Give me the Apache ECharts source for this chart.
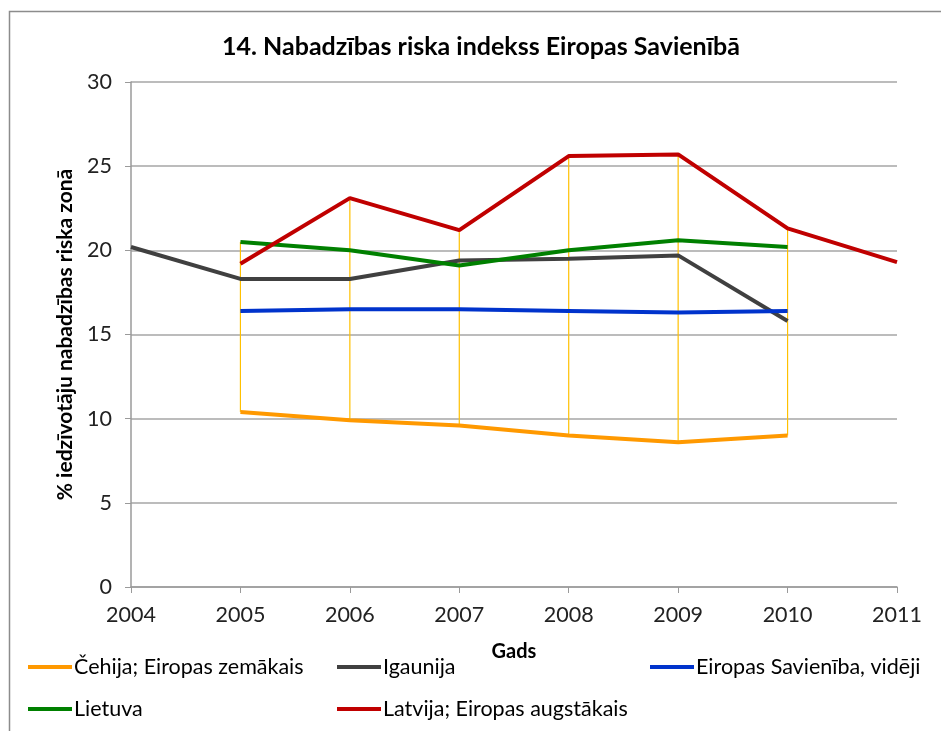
<!DOCTYPE html>
<html>
<head>
<meta charset="utf-8">
<script src="https://cdn.jsdelivr.net/npm/echarts@6/dist/echarts.min.js"></script>
<style>
  html, body { margin: 0; padding: 0; background: #fff; }
  #chart { width: 941px; height: 731px; }
</style>
</head>
<body>
<div id="chart"></div>
<script>
// gadi uz x ass
const years = ["2004", "2005", "2006", "2007", "2008", "2009", "2010", "2011"];
// vērtības, % iedzīvotāju nabadzības riska zonā
const cehija = [null, 10.4, 9.9, 9.6, 9.0, 8.6, 9.0, null];
const igaunija = [20.2, 18.3, 18.3, 19.4, 19.5, 19.7, 15.8, null];
const esVideji = [null, 16.4, 16.5, 16.5, 16.4, 16.3, 16.4, null];
const lietuva = [null, 20.5, 20.0, 19.1, 20.0, 20.6, 20.2, null];
const latvija = [null, 19.2, 23.1, 21.2, 25.6, 25.7, 21.3, 19.3];
const yTicks = [0, 5, 10, 15, 20, 25, 30];

const names = [
  "Čehija; Eiropas zemākais",
  "Igaunija",
  "Eiropas Savienība, vidēji",
  "Lietuva",
  "Latvija; Eiropas augstākais",
];
const colors = ["#FF9900", "#404040", "#0033CC", "#008000", "#C00000"];
const allSeries = [cehija, igaunija, esVideji, lietuva, latvija];

// augstākā/zemākā vērtība katrā gadā (Excel "high-low" līnijas)
const highLow = years.map((y, i) => {
  const vals = allSeries.map((s) => s[i]).filter((v) => v != null);
  return [i, Math.min(...vals), Math.max(...vals)];
});

const FONT = "Lato";
const chart = echarts.init(document.getElementById("chart"));

// leģendas pozīcijas
const legendPos = [
  [28, 656],
  [337, 656],
  [650, 656],
  [28, 698],
  [337, 698],
];

const option = {
  animation: false,
  backgroundColor: "#fff",
  textStyle: { fontFamily: FONT },
  graphic: [
    {
      type: "rect",
      shape: { x: 9.5, y: 11.5, width: 1000, height: 1000 },
      style: { fill: null, stroke: "#8c8c8c", lineWidth: 1.5 },
      silent: true,
    },
    {
      type: "text",
      x: 481,
      y: 47,
      style: {
        text: "14. Nabadzības riska indekss Eiropas Savienībā",
        font: "bold 25px " + FONT,
        fill: "#000",
        align: "center",
        verticalAlign: "middle",
      },
    },
  ],
  legend: names.map((n, i) => ({
    data: [n],
    left: legendPos[i][0],
    top: legendPos[i][1],
    icon: "rect",
    itemWidth: 44,
    itemHeight: 4,
    padding: 0,
    textStyle: { fontFamily: FONT, fontSize: 21.5, color: "#000", padding: [0, 0, 0, -3] },
  })),
  grid: { left: 131, right: 44, top: 82, bottom: 144 },
  xAxis: {
    type: "category",
    data: years,
    boundaryGap: false,
    name: "Gads",
    nameLocation: "middle",
    nameGap: 55,
    nameTextStyle: { fontFamily: FONT, fontWeight: "bold", fontSize: 20, color: "#000" },
    axisLine: { lineStyle: { color: "#9a9a9a", width: 1.5 } },
    axisTick: { show: true, length: 6, lineStyle: { color: "#9a9a9a" } },
    axisLabel: { fontFamily: FONT, fontSize: 21.5, color: "#222", margin: 17 },
    splitLine: { show: false },
  },
  yAxis: {
    type: "value",
    min: yTicks[0],
    max: yTicks[yTicks.length - 1],
    interval: yTicks[1] - yTicks[0],
    name: "% iedzīvotāju nabadzības riska zonā",
    nameLocation: "middle",
    nameGap: 53,
    nameTextStyle: { fontFamily: FONT, fontWeight: "bold", fontSize: 21, color: "#000" },
    axisLine: { show: true, lineStyle: { color: "#9a9a9a", width: 1.5 } },
    axisTick: { show: true, length: 6, lineStyle: { color: "#9a9a9a" } },
    axisLabel: { fontFamily: FONT, fontSize: 21.5, color: "#222", margin: 19 },
    splitLine: { lineStyle: { color: "#a6a6a6", width: 1.5 } },
  },
  series: [
    {
      type: "custom",
      name: "hl",
      z: 1,
      silent: true,
      data: highLow,
      renderItem: (params, api) => {
        const lo = api.coord([api.value(0), api.value(1)]);
        const hi = api.coord([api.value(0), api.value(2)]);
        return {
          type: "line",
          shape: { x1: lo[0], y1: lo[1], x2: hi[0], y2: hi[1] },
          style: { stroke: "#FFC000", lineWidth: 1.2 },
        };
      },
    },
  ].concat(
    allSeries.map((d, i) => ({
      type: "line",
      name: names[i],
      data: d,
      z: 3,
      showSymbol: false,
      symbol: "none",
      connectNulls: false,
      lineStyle: { color: colors[i], width: 4 },
      itemStyle: { color: colors[i] },
    }))
  ),
};
chart.setOption(option);
</script>
</body>
</html>
